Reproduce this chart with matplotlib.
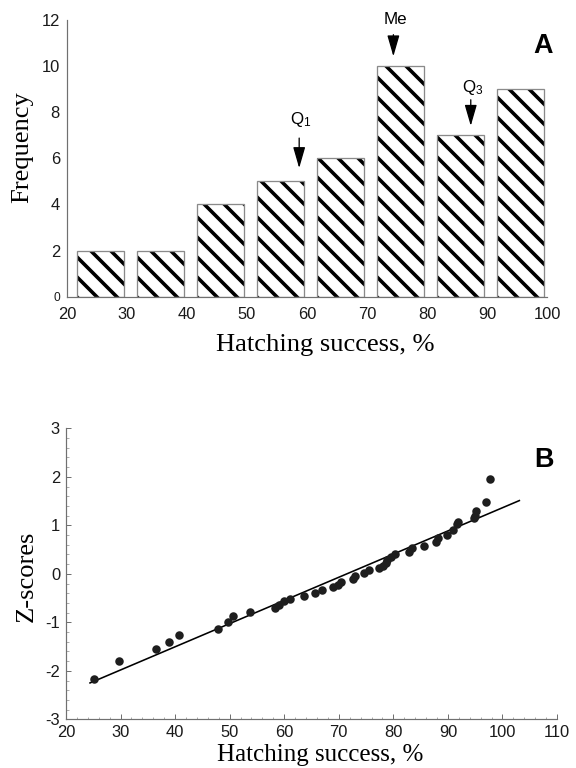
import matplotlib
matplotlib.use("Agg")
import matplotlib.pyplot as plt
from matplotlib.ticker import MultipleLocator

# histogram (panel A)
bin_left = [20, 30, 40, 50, 60, 70, 80, 90]
freq = [2, 2, 4, 5, 6, 10, 7, 9]

# quartile / median arrows: x, arrow start y, arrow end y, label y
arrow_names = ["Q$_1$", "Me", "Q$_3$"]
arrow_x = [58.7, 74.4, 87.3]
arrow_y0 = [6.87, 11.35, 8.53]
arrow_y1 = [5.57, 10.41, 7.40]
label_y = [7.66, 12.0, 9.04]

# normal probability plot (panel B)
hatch_x = [25.2, 29.7, 36.5, 38.8, 40.8, 47.8, 49.7, 50.7, 53.8, 58.4,
           59.0, 59.9, 61.1, 63.7, 65.7, 66.9, 68.9, 69.9, 70.4, 72.6,
           73.0, 74.6, 75.5, 77.3, 78.1, 78.6, 78.9, 79.6, 80.3, 82.8,
           83.4, 85.6, 87.8, 88.1, 89.8, 90.9, 91.9, 91.6, 94.8, 94.9,
           95.2, 96.9, 97.8]
zscore = [-2.16, -1.79, -1.55, -1.40, -1.26, -1.14, -1.00, -0.87, -0.79, -0.71,
          -0.64, -0.57, -0.52, -0.45, -0.40, -0.33, -0.27, -0.23, -0.16, -0.11,
          -0.05, 0.01, 0.07, 0.12, 0.17, 0.23, 0.29, 0.34, 0.41, 0.46,
          0.53, 0.58, 0.65, 0.74, 0.80, 0.91, 1.07, 1.02, 1.16, 1.20,
          1.29, 1.48, 1.95]
line_x = [24.4, 103.1]
line_z = [-2.25, 1.51]

DPI = 120
PT = 72.0 / DPI   # pixel -> point


def px(v):
    return v * PT


plt.rcParams['font.family'] = 'Liberation Sans'
plt.rcParams['mathtext.default'] = 'regular'
plt.rcParams['axes.unicode_minus'] = False
plt.rcParams['hatch.linewidth'] = px(3.6)
serif = 'Liberation Serif'
spine_col = '#707070'

fig = plt.figure(figsize=(576 / DPI, 768 / DPI), dpi=DPI)

# ---- panel A
ax = fig.add_axes([0.1163, 0.6137, 0.8333, 0.3607])
lefts = [b + 1.6 for b in bin_left]
ax.bar(lefts, freq, width=7.9, align='edge', color='white',
       edgecolor='black', linewidth=0, hatch='\\\\')
ax.bar(lefts, freq, width=7.9, align='edge', fill=False,
       edgecolor='#8a8a8a', linewidth=px(1.3))
for name, x, y0, y1, ly in zip(arrow_names, arrow_x, arrow_y0, arrow_y1, label_y):
    ax.annotate('', xy=(x, y1), xytext=(x, y0),
                arrowprops=dict(arrowstyle='-|>,head_length=0.9,head_width=0.26',
                                color='black', lw=px(1.3), shrinkA=0, shrinkB=0,
                                mutation_scale=px(20)))
    ax.text(x + 0.3, ly, name, fontsize=px(17), ha='center', va='center')
ax.text(99.4, 10.84, 'A', fontsize=px(27), fontweight='bold', ha='center', va='center')
ax.set_xlim(20, 100)
ax.set_ylim(0, 12)
ax.set_xticks(range(20, 101, 10))
ax.set_yticks(range(0, 13, 2))
ax.tick_params(length=0, labelsize=px(16.5), colors='#1a1a1a')
ax.tick_params(axis='x', pad=px(10))
ax.tick_params(axis='y', pad=px(7))
ax.get_yticklabels()[0].set_fontsize(px(12))
ax.set_xlabel('Hatching success, %', fontsize=px(26.5), family=serif)
ax.set_ylabel('Frequency', fontsize=px(26.5), family=serif)
ax.xaxis.set_label_coords(0.539, -0.135)
ax.yaxis.set_label_coords(-0.07, 0.54)
for s in ['top', 'right']:
    ax.spines[s].set_visible(False)
for s in ['left', 'bottom']:
    ax.spines[s].set_color(spine_col)
    ax.spines[s].set_linewidth(px(1.2))

# ---- panel B
bx = fig.add_axes([0.1146, 0.0634, 0.8524, 0.3789])
bx.plot(line_x, line_z, color='black', lw=px(1.6))
bx.scatter(hatch_x, zscore, s=px(8.5) ** 2, color='#1e1e1e', zorder=3, linewidths=0)
bx.text(107.7, 2.35, 'B', fontsize=px(27), fontweight='bold', ha='center', va='center')
bx.set_xlim(20, 110)
bx.set_ylim(-3, 3)
bx.xaxis.set_major_locator(MultipleLocator(10))
bx.xaxis.set_minor_locator(MultipleLocator(2))
bx.yaxis.set_major_locator(MultipleLocator(1))
bx.yaxis.set_minor_locator(MultipleLocator(0.2))
bx.tick_params(which='major', direction='in', length=px(5), width=px(1),
               color=spine_col, labelsize=px(16.5), labelcolor='#1a1a1a')
bx.tick_params(which='minor', direction='in', length=px(2.5), width=px(0.8), color='#999999')
bx.tick_params(axis='x', which='major', pad=px(6))
bx.tick_params(axis='y', which='major', pad=px(6))
bx.set_xlabel('Hatching success, %', fontsize=px(25), family=serif, va='bottom')
bx.set_ylabel('Z-scores', fontsize=px(26.5), family=serif)
bx.xaxis.set_label_coords(320 / 576, 2 / 768, transform=fig.transFigure)
bx.yaxis.set_label_coords(-0.057, 0.49)
for s in ['top', 'right']:
    bx.spines[s].set_visible(False)
for s in ['left', 'bottom']:
    bx.spines[s].set_color(spine_col)
    bx.spines[s].set_linewidth(px(1.2))

fig.savefig('out.png', dpi=DPI)
